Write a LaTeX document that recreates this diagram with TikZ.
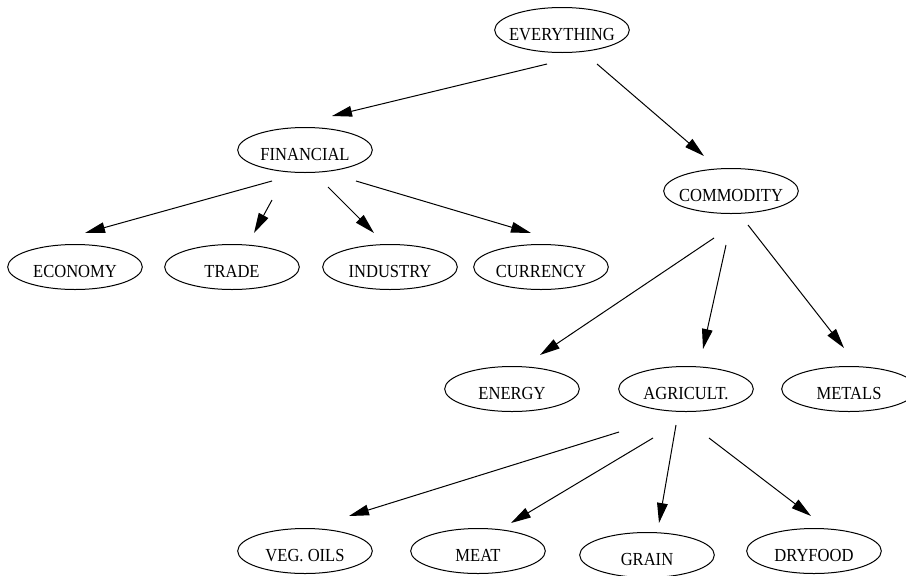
\documentclass[tikz,border=0pt]{standalone}
\usepackage{fontspec}
\setmainfont[FakeStretch=0.9]{Liberation Serif}
\usetikzlibrary{shapes.geometric,arrows.meta}
\newcommand{\mkcat}[1]{\makebox[0pt]{#1}}

\begin{document}
\begin{tikzpicture}[x=0.75pt, y=-0.75pt,
    cat/.style={ellipse, draw, line width=0.75pt, minimum width=101pt, minimum height=33.75pt,
      inner sep=0pt, text height=15pt, text depth=0pt, font=\fontsize{13.8}{16}\selectfont},
    link/.style={-{Triangle[length=15pt,width=8pt]}, line width=0.75pt}]
    \useasboundingbox (0,0) rectangle (906,575);

    \node[cat] (every) at (562,30) {\mkcat{EVERYTHING}};
    \node[cat] (fin) at (305,150) {\mkcat{FINANCIAL}};
    \node[cat] (comm) at (731,191) {\mkcat{COMMODITY}};

    \node[cat] (econ) at (75,267) {\mkcat{ECONOMY}};
    \node[cat] (trade) at (232,267) {\mkcat{TRADE}};
    \node[cat] (indus) at (390,267) {\mkcat{INDUSTRY}};
    \node[cat] (curr) at (541,267) {\mkcat{CURRENCY}};

    \node[cat] (energy) at (512,389) {\mkcat{ENERGY}};
    \node[cat] (agri) at (686,389) {\mkcat{AGRICULT.}};
    \node[cat] (metals) at (849,389) {\mkcat{METALS}};

    \node[cat] (veg) at (305,551) {\mkcat{VEG. OILS}};
    \node[cat] (meat) at (478,551) {\mkcat{MEAT}};
    \node[cat] (grain) at (647,555) {\mkcat{GRAIN}};
    \node[cat] (dry) at (814,551) {\mkcat{DRYFOOD}};

    % loose arrow ends, as in the original layout
    \coordinate (every-fin-a) at (547,64);   \coordinate (every-fin-b) at (332,116);
    \coordinate (every-comm-a) at (597,64);  \coordinate (every-comm-b) at (704,156);
    \coordinate (fin-econ-a) at (272,181);   \coordinate (fin-econ-b) at (85,233);
    \coordinate (fin-trade-a) at (272,200);  \coordinate (fin-trade-b) at (254,233);
    \coordinate (fin-indus-a) at (328,187);  \coordinate (fin-indus-b) at (374,233);
    \coordinate (fin-curr-a) at (356,181);   \coordinate (fin-curr-b) at (531,233);
    \coordinate (comm-energy-a) at (714,238); \coordinate (comm-energy-b) at (540,355);
    \coordinate (comm-agri-a) at (726,245);  \coordinate (comm-agri-b) at (703,349);
    \coordinate (comm-metals-a) at (748,225); \coordinate (comm-metals-b) at (844,348);
    \coordinate (agri-veg-a) at (619,432);   \coordinate (agri-veg-b) at (349,516);
    \coordinate (agri-meat-a) at (653,438);  \coordinate (agri-meat-b) at (511,523);
    \coordinate (agri-grain-a) at (676,425); \coordinate (agri-grain-b) at (659,523);
    \coordinate (agri-dry-a) at (709,438);   \coordinate (agri-dry-b) at (811,516);

    \draw[link] (every-fin-a) -- (every-fin-b);
    \draw[link] (every-comm-a) -- (every-comm-b);
    \draw[link] (fin-econ-a) -- (fin-econ-b);
    \draw[link] (fin-trade-a) -- (fin-trade-b);
    \draw[link] (fin-indus-a) -- (fin-indus-b);
    \draw[link] (fin-curr-a) -- (fin-curr-b);
    \draw[link] (comm-energy-a) -- (comm-energy-b);
    \draw[link] (comm-agri-a) -- (comm-agri-b);
    \draw[link] (comm-metals-a) -- (comm-metals-b);
    \draw[link] (agri-veg-a) -- (agri-veg-b);
    \draw[link] (agri-meat-a) -- (agri-meat-b);
    \draw[link] (agri-grain-a) -- (agri-grain-b);
    \draw[link] (agri-dry-a) -- (agri-dry-b);
\end{tikzpicture}
\end{document}
